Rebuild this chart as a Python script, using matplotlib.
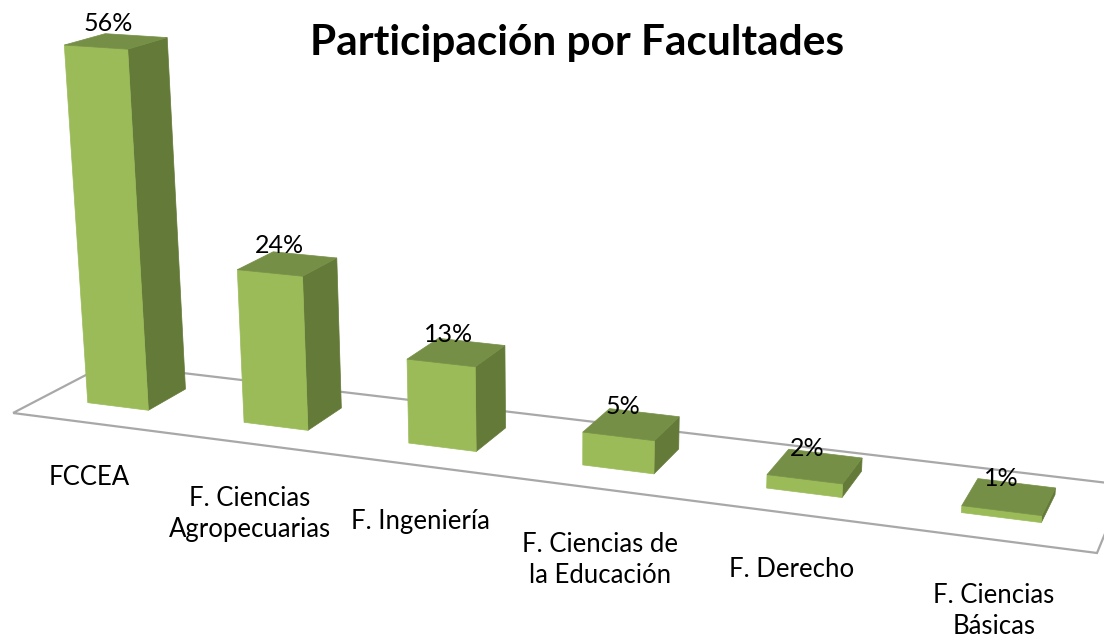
import numpy as np
import matplotlib
matplotlib.use("Agg")
import matplotlib.pyplot as plt
from matplotlib.patches import Polygon

plt.rcParams["font.family"] = ["Lato", "DejaVu Sans"]

# ---------------------------
# data
# ---------------------------
categories = [
    "FCCEA",
    "F. Ciencias\nAgropecuarias",
    "F. Ingeniería",
    "F. Ciencias de\nla Educación",
    "F. Derecho",
    "F. Ciencias\nBásicas",
]
values = [56, 24, 13, 5, 2, 1]
value_labels = ["56%", "24%", "13%", "5%", "2%", "1%"]
title = "Participación por Facultades"

# ---------------------------
# camera: floor corners in pixels and vanishing point of the vertical axis
# ---------------------------
FLOOR_CORNERS = [(13, 413), (1097, 553), (1125, 485), (107, 364)]
VANISH = (560, 7600)
K = -0.000857

BAR_CENTER = 0.49
BAR_HALF = 0.197
Z_FRONT, Z_BACK = 0.31, 0.73
Z_LABEL = -0.07

FRONT = "#9BBB59"
SIDE = "#647A38"
TOP = "#768F46"
FLOOR = "#A8A8A8"


def floor_homography(corners):
    """unit square (u, v) -> pixels"""
    src = [(0, 0), (1, 0), (1, 1), (0, 1)]
    a, b = [], []
    for (u, v), (x, y) in zip(src, corners):
        a.append([u, v, 1, 0, 0, 0, -u * x, -v * x])
        a.append([0, 0, 0, u, v, 1, -u * y, -v * y])
        b += [x, y]
    h = np.linalg.solve(np.array(a, float), np.array(b, float))
    return np.append(h, 1).reshape(3, 3)


H = floor_homography(FLOOR_CORNERS)


def project(x, z, y=0.0):
    """x: category axis 0..6, z: depth 0..1, y: value in %"""
    p = H @ np.array([x / len(categories), z, 1.0])
    p = p + y * K * np.array([VANISH[0], VANISH[1], 1.0])
    return p[0] / p[2], p[1] / p[2]


fig = plt.figure(figsize=(11.04, 6.42), dpi=100)
ax = fig.add_axes([0, 0, 1, 1])
ax.set_xlim(0, 1104)
ax.set_ylim(642, 0)
ax.axis("off")

# floor outline
floor_pts = [project(0, 0), project(6, 0), project(6, 1), project(0, 1)]
ax.add_patch(Polygon(floor_pts, closed=True, fill=False, ec=FLOOR, lw=1.6, zorder=1))

# bars
for i, v in enumerate(values):
    xc = i + BAR_CENTER
    x0, x1 = xc - BAR_HALF, xc + BAR_HALF
    front = [project(x0, Z_FRONT), project(x1, Z_FRONT), project(x1, Z_FRONT, v), project(x0, Z_FRONT, v)]
    side = [project(x1, Z_FRONT), project(x1, Z_BACK), project(x1, Z_BACK, v), project(x1, Z_FRONT, v)]
    top = [project(x0, Z_FRONT, v), project(x1, Z_FRONT, v), project(x1, Z_BACK, v), project(x0, Z_BACK, v)]
    ax.add_patch(Polygon(side, closed=True, fc=SIDE, ec=SIDE, lw=0.5, zorder=2))
    ax.add_patch(Polygon(front, closed=True, fc=FRONT, ec=FRONT, lw=0.5, zorder=3))
    ax.add_patch(Polygon(top, closed=True, fc=TOP, ec=TOP, lw=0.5, zorder=3))

    cx, cy = project(xc, (Z_FRONT + Z_BACK) / 2, v)
    ax.annotate(value_labels[i], (cx, cy), xytext=(-6, 13), textcoords="offset points",
                ha="center", va="center", fontsize=18, color="black", zorder=5)

    lx, ly = project(xc, Z_LABEL)
    ax.annotate(categories[i], (lx, ly), xytext=(5, -28), textcoords="offset points",
                ha="center", va="top", fontsize=18.5, color="black",
                linespacing=1.3, zorder=5)

ax.text(577, 43, title, ha="center", va="center", fontsize=30.5, fontweight="bold", color="black")

fig.savefig("out.png", dpi=100)
